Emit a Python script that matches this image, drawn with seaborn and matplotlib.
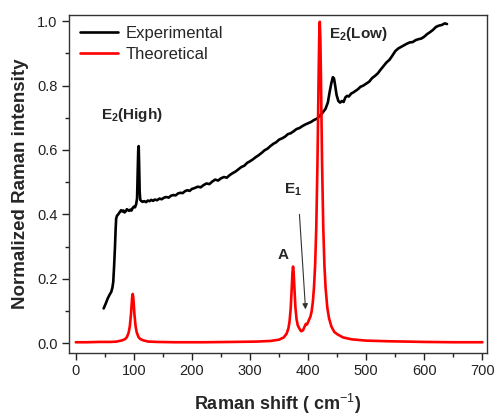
import matplotlib
matplotlib.use("Agg")
import matplotlib.pyplot as plt
from matplotlib.ticker import MultipleLocator, FormatStrFormatter
import seaborn as sns

# Experimental Raman spectrum (normalized)
exp_shift = [48, 52, 55, 58, 61, 63, 64.5, 66, 67.5, 68.5, 69.5, 71, 73, 76, 78, 80, 82, 84, 86, 88,
             90, 92, 94, 96, 98, 100, 102, 104, 105.5, 106.5, 107.5, 108.3, 109, 110, 111, 113, 115,
             118, 121, 124, 127, 130, 133, 136, 140, 144, 148, 152, 156, 160, 164, 168, 172, 176,
             180, 184, 188, 192, 196, 200, 205, 210, 215, 220, 225, 230, 235, 240, 245, 250, 255,
             260, 265, 270, 275, 280, 285, 290, 295, 300, 305, 310, 315, 320, 325, 330, 335, 340,
             345, 350, 355, 360, 365, 370, 375, 380, 385, 390, 395, 400, 405, 410, 415, 420, 425,
             430, 434, 437, 440, 442.5, 444.5, 446.5, 449, 452, 455, 458, 461, 464, 467, 470, 474,
             478, 482, 486, 490, 495, 500, 505, 510, 515, 520, 525, 530, 535, 540, 545, 550, 555,
             560, 565, 570, 575, 580, 585, 590, 595, 600, 605, 610, 615, 620, 625, 630, 635, 639]
exp_int = [0.108, 0.125, 0.139, 0.150, 0.159, 0.172, 0.190, 0.240, 0.300, 0.350, 0.387, 0.396,
           0.400, 0.408, 0.413, 0.409, 0.412, 0.406, 0.410, 0.416, 0.413, 0.411, 0.415, 0.412,
           0.420, 0.424, 0.422, 0.432, 0.450, 0.530, 0.600, 0.612, 0.560, 0.470, 0.445, 0.441,
           0.439, 0.441, 0.438, 0.443, 0.441, 0.445, 0.442, 0.446, 0.444, 0.449, 0.447, 0.452,
           0.454, 0.452, 0.458, 0.460, 0.459, 0.465, 0.467, 0.466, 0.472, 0.475, 0.473, 0.479,
           0.482, 0.486, 0.484, 0.491, 0.496, 0.494, 0.502, 0.508, 0.505, 0.512, 0.516, 0.514,
           0.522, 0.528, 0.533, 0.540, 0.547, 0.551, 0.560, 0.565, 0.571, 0.578, 0.584, 0.591,
           0.599, 0.604, 0.612, 0.619, 0.624, 0.632, 0.636, 0.641, 0.649, 0.652, 0.658, 0.665,
           0.668, 0.674, 0.679, 0.683, 0.687, 0.693, 0.697, 0.706, 0.716, 0.728, 0.748, 0.780,
           0.808, 0.826, 0.822, 0.800, 0.770, 0.752, 0.747, 0.752, 0.749, 0.763, 0.768, 0.766,
           0.775, 0.779, 0.784, 0.789, 0.796, 0.800, 0.806, 0.812, 0.823, 0.830, 0.838, 0.850,
           0.861, 0.872, 0.880, 0.893, 0.907, 0.915, 0.920, 0.925, 0.930, 0.934, 0.935, 0.941,
           0.944, 0.946, 0.952, 0.960, 0.966, 0.973, 0.982, 0.986, 0.988, 0.993, 0.991]

# Calculated Raman spectrum (normalized)
theo_shift = [0, 20, 40, 60, 70, 80, 85, 88, 91, 93, 95, 96, 97, 98, 99, 100, 101, 103, 105, 108,
              111, 116, 125, 140, 170, 220, 270, 310, 335, 350, 358, 363, 366, 368, 370, 372, 373,
              374, 375, 376, 378, 380, 382, 385, 388, 391, 394, 396, 398, 400, 402, 404, 406, 408,
              410, 412, 414, 416, 417, 418, 419, 420, 421, 422, 423, 424, 426, 428, 430, 433, 436,
              440, 445, 450, 460, 475, 500, 540, 600, 650, 700]
theo_int = [0.003, 0.003, 0.004, 0.004, 0.005, 0.009, 0.013, 0.019, 0.033, 0.052, 0.089, 0.116,
            0.142, 0.153, 0.142, 0.116, 0.089, 0.052, 0.033, 0.019, 0.013, 0.009, 0.005, 0.004,
            0.003, 0.003, 0.004, 0.005, 0.007, 0.011, 0.018, 0.030, 0.046, 0.068, 0.109, 0.181,
            0.220, 0.238, 0.221, 0.184, 0.113, 0.075, 0.056, 0.045, 0.037, 0.040, 0.052, 0.060,
            0.058, 0.066, 0.075, 0.083, 0.099, 0.127, 0.172, 0.242, 0.360, 0.557, 0.690, 0.831,
            0.948, 0.998, 0.948, 0.831, 0.690, 0.557, 0.360, 0.242, 0.172, 0.110, 0.077, 0.052,
            0.035, 0.028, 0.018, 0.012, 0.008, 0.006, 0.004, 0.003, 0.003]

series_names = ["Experimental", "Theoretical"]
series_colors = ["black", "#ff0000"]

sns.set_style("ticks")
plt.rcParams["font.family"] = ["Liberation Sans", "DejaVu Sans"]
plt.rcParams["mathtext.fontset"] = "custom"
plt.rcParams["mathtext.rm"] = "Liberation Sans"
plt.rcParams["mathtext.bf"] = "Liberation Sans:bold"

fig = plt.figure(figsize=(4.95, 4.17), dpi=100)
ax = fig.add_axes([0.139, 0.153, 0.845, 0.811])

sns.lineplot(x=exp_shift, y=exp_int, ax=ax, color=series_colors[0], lw=1.9,
             label=series_names[0], sort=False)
sns.lineplot(x=theo_shift, y=theo_int, ax=ax, color=series_colors[1], lw=1.9,
             label=series_names[1], sort=False)

ax.set_xlim(-12, 708)
ax.set_ylim(-0.031, 1.019)
ax.xaxis.set_major_locator(MultipleLocator(100))
ax.xaxis.set_minor_locator(MultipleLocator(50))
ax.yaxis.set_major_locator(MultipleLocator(0.2))
ax.yaxis.set_minor_locator(MultipleLocator(0.1))
ax.yaxis.set_major_formatter(FormatStrFormatter("%.1f"))
ax.tick_params(which="major", direction="out", length=5, width=1, labelsize=10.5, pad=3,
               colors="#222222")
ax.tick_params(which="minor", direction="out", length=3, width=1, colors="#222222")
for sp in ax.spines.values():
    sp.set_visible(True)
    sp.set_linewidth(1.0)
    sp.set_color("#333333")

ax.set_xlabel("Raman shift ( cm$^{-1}$)", fontsize=13, fontweight="bold", labelpad=10)
ax.set_ylabel("Normalized Raman intensity", fontsize=13.5, fontweight="bold", labelpad=6)

leg = ax.legend(loc="upper left", frameon=False, fontsize=12, handlelength=2.3,
                handletextpad=0.45, borderaxespad=0.25, labelspacing=0.35,
                bbox_to_anchor=(0.0, 1.0))

# Mode assignments
ax.text(97, 0.71, r"$\mathbf{E_2}$(High)", fontsize=11, fontweight="bold",
        ha="center", va="center")
ax.text(436, 0.96, r"$\mathbf{E_2}$(Low)", fontsize=11, fontweight="bold",
        ha="left", va="center")
ax.text(357, 0.273, "A", fontsize=11, fontweight="bold", ha="center", va="center")
ax.text(358, 0.475, r"$\mathbf{E_1}$", fontsize=11, fontweight="bold",
        ha="left", va="center")
ax.annotate("", xy=(395.5, 0.105), xytext=(385, 0.40),
            arrowprops=dict(arrowstyle="-|>", color="#333333", lw=0.8,
                            mutation_scale=8, shrinkA=0, shrinkB=0))

fig.savefig("out.png", dpi=100)
